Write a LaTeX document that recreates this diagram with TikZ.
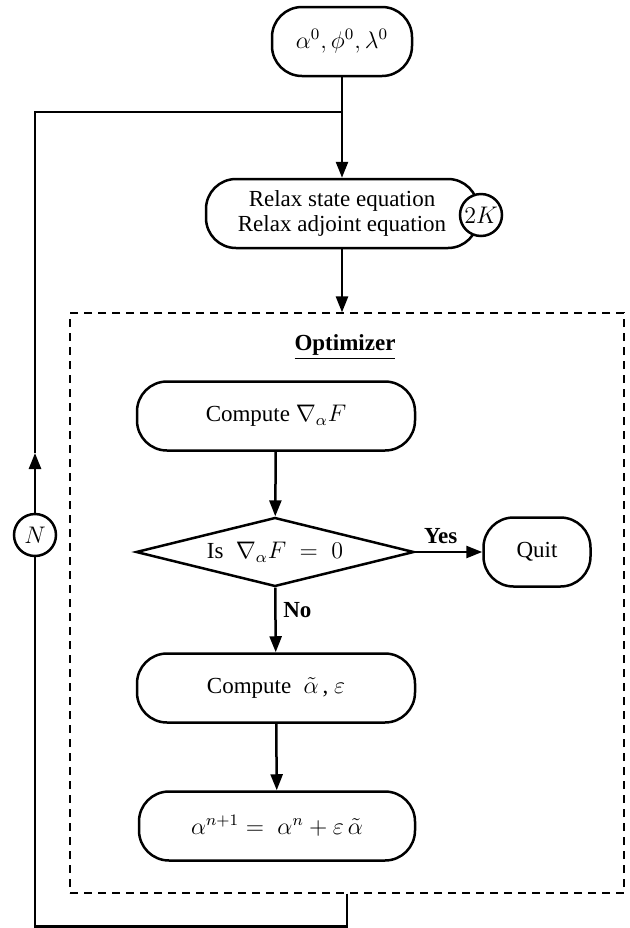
\documentclass[tikz,border=0pt]{standalone}
\usepackage{fontspec}
\setmainfont{Liberation Serif}
\usetikzlibrary{shapes.geometric,arrows.meta}
\tikzset{
  >={Triangle[length=8pt,width=6pt]},
  every node/.style={font=\fontsize{11.5}{12.5}\selectfont},
  % --- nodes
  pill/.style = {draw, line width=1.25pt, rounded corners=15pt, fill=white, align=center,
                 minimum height=34.5pt, inner sep=2pt},
  ring/.style = {draw, circle, line width=1.25pt, fill=white, minimum size=21pt, inner sep=0pt},
  test/.style = {draw, diamond, line width=1.25pt, aspect=4, minimum width=139pt,
                 minimum height=34.5pt, inner sep=0pt},
  lbl/.style  = {font=\fontsize{11.5}{12.5}\selectfont\bfseries},
  % --- edges
  ln/.style   = {line width=1.25pt},
  e/.style    = {ln, ->},
}

\begin{document}
\begin{tikzpicture}[x=0.5pt,y=-0.5pt]
  \useasboundingbox (0,0) rectangle (629,928);
  % dashed optimizer frame
  \node[draw, dash pattern=on 4pt off 3pt, line width=0.6pt, minimum width=277pt,
        minimum height=290pt, inner sep=0pt] (box) at (347,603) {};
  \node[lbl] (opt) at (345,347) {\underline{Optimizer}};
  % nodes
  \node[pill, minimum width=70pt] (init) at (342,41.5) {$\alpha^{0}, \phi^{0}, \lambda^{0}$};
  \node[pill, minimum width=136pt] (relax) at (342,213.5) {Relax state equation\\Relax adjoint equation};
  \node[ring] (kk) at (481,215) {$2K$};
  \node[pill, minimum width=139pt] (grad) at (276,416) {Compute $\nabla_{\alpha}F$};
  \node[test] (zero) at (275,552) {Is $\;\nabla_{\alpha}F\;=\;0$};
  \node[pill, minimum width=53.5pt] (quit) at (537,552) {Quit};
  \node[pill, minimum width=139pt] (dir) at (276,688) {Compute $\;\tilde{\alpha}$\,, $\varepsilon$};
  \node[pill, minimum width=138pt] (upd) at (277,826) {$\alpha^{n+1} = \;\alpha^{n} + \varepsilon\,\tilde{\alpha}$};
  \node[ring] (nn) at (35,535) {$N$};
  % loop corners
  \coordinate (j) at (342,112);
  \coordinate (tl) at (35,112);
  \coordinate (up) at (35,453);
  % edges
  \draw[e] (init) -- (relax);
  \draw[e] (relax) -- (relax |- box.north);
  \draw[e] (grad) -- (zero);
  \draw[e] (zero) -- node[lbl, above, pos=0.38] {Yes} (quit);
  \draw[e] (zero) -- node[lbl, right, pos=0.35] {No} (dir);
  \draw[e] (dir) -- (upd);
  \draw[ln] (box.south) -- ++(0,33) -| (nn.south);
  \draw[e] (nn) -- (up);
  \draw[ln] (up) -- (tl) -- (j);
\end{tikzpicture}
\end{document}
